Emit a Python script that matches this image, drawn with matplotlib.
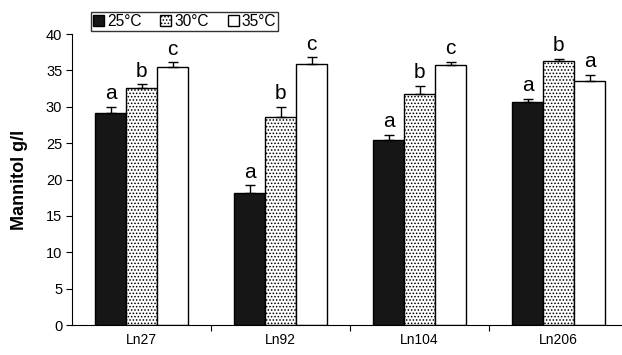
import numpy as np
import matplotlib.pyplot as plt
from matplotlib.patches import Patch

plt.rcParams['font.family'] = ['Liberation Sans', 'DejaVu Sans']
plt.rcParams['hatch.linewidth'] = 0.7

strains = ['Ln27', 'Ln92', 'Ln104', 'Ln206']
temps = ['25°C', '30°C', '35°C']
mannitol = [
    [29.1, 18.2, 25.4, 30.6],   # 25°C
    [32.6, 28.6, 31.8, 36.3],   # 30°C
    [35.5, 35.9, 35.7, 33.6],   # 35°C
]
errors = [
    [0.9, 1.0, 0.7, 0.5],
    [0.5, 1.4, 1.1, 0.3],
    [0.6, 0.9, 0.5, 0.8],
]
letters = [
    ['a', 'a', 'a', 'a'],
    ['b', 'b', 'b', 'b'],
    ['c', 'c', 'c', 'a'],
]

fig = plt.figure(figsize=(6.22, 3.55), dpi=100)
ax = fig.add_axes([0.1158, 0.0845, 0.894, 0.8197])

x = np.arange(len(strains))
w = 0.223
faces = ['#161616', 'white', 'white']
hatches = [None, '.....', None]

for i in range(3):
    pos = x + (i - 1) * w
    vals = np.array(mannitol[i])
    err = np.array(errors[i])
    ax.bar(pos, vals, w, color=faces[i], edgecolor='black', linewidth=1,
           hatch=hatches[i], zorder=2)
    ax.errorbar(pos, vals, yerr=[np.zeros_like(err), err], fmt='none',
                ecolor='black', elinewidth=1, capsize=3.5, capthick=1, zorder=3)
    for p, v, e, l in zip(pos, vals, err, letters[i]):
        ax.text(p, v + e + 0.5, l, ha='center', va='bottom', fontsize=15)

ax.set_xlim(-0.5, 3.5)
ax.set_ylim(0, 40)
ax.set_yticks(np.arange(0, 41, 5))
ax.set_xticks(x[:-1] + 0.5)
ax.set_xticklabels([])
ax.set_xticks(x, minor=True)
ax.set_xticklabels(strains, minor=True)
ax.tick_params(axis='x', which='minor', length=0, pad=6, labelsize=10)
ax.tick_params(axis='x', which='major', length=4, direction='out')
ax.tick_params(axis='y', length=4, direction='out', labelsize=10.5, pad=3)
ax.spines['top'].set_visible(False)
ax.spines['right'].set_visible(False)
ax.set_ylabel('Mannitol g/l', fontsize=13, fontweight='bold', labelpad=13)

handles = [Patch(facecolor=faces[i], edgecolor='black', hatch=hatches[i])
           for i in range(3)]
leg = fig.legend(handles, temps, loc='center', bbox_to_anchor=(0.297, 0.939),
                 ncol=3, frameon=True, fancybox=False, fontsize=11.2,
                 handlelength=0.7, handleheight=0.7, handletextpad=0.2,
                 columnspacing=1.2, borderpad=0.15, borderaxespad=0)
leg.get_frame().set_edgecolor('black')
leg.get_frame().set_linewidth(1)

fig.savefig('out.png', dpi=100)
